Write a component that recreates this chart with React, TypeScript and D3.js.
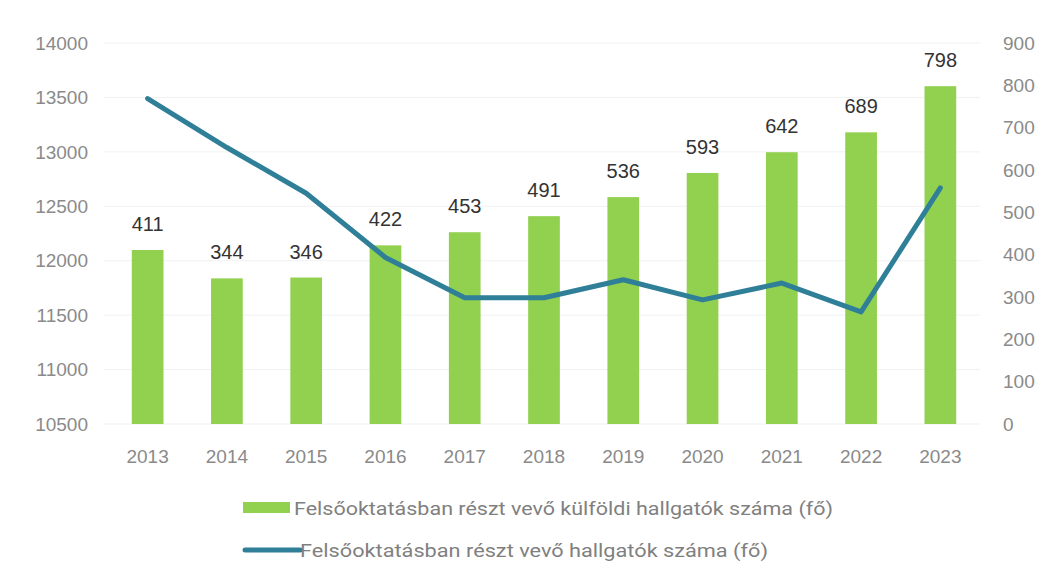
import React from "react";
import * as d3 from "d3";

const years = ["2013","2014","2015","2016","2017","2018","2019","2020","2021","2022","2023"];
const foreignStudents = [411, 344, 346, 422, 453, 491, 536, 593, 642, 689, 798];
const totalStudents = [13490, 13040, 12620, 12030, 11660, 11660, 11825, 11640, 11795, 11530, 12670];
const leftTicks = [10500, 11000, 11500, 12000, 12500, 13000, 13500, 14000];
const rightTicks = [0, 100, 200, 300, 400, 500, 600, 700, 800, 900];
const barLegend = "Felsőoktatásban részt vevő külföldi hallgatók száma (fő)";
const lineLegend = "Felsőoktatásban részt vevő hallgatók száma (fő)";

export default function App() {
  const W = 1046, H = 581;
  const left = 108, right = 980, top = 43, bottom = 424;
  const x = d3.scaleBand().domain(years).range([left, right]).paddingInner(0.6).paddingOuter(0.3);
  const yL = d3.scaleLinear().domain([10500, 14000]).range([bottom, top]);
  const yR = d3.scaleLinear().domain([0, 900]).range([bottom, top]);
  const cx = (d: string) => (x(d) as number) + x.bandwidth() / 2;
  const line = d3.line<number>().x((_, i) => cx(years[i])).y((d) => yL(d));
  const axisColor = "#8a8a8a";
  const font = "'Liberation Sans', Arial, sans-serif";
  return (
    <svg width={W} height={H} style={{ position: "absolute", left: 0, top: 0, background: "#fff" }}>
      {leftTicks.map((t) => (
        <line key={"g" + t} x1={104} x2={right} y1={yL(t)} y2={yL(t)} stroke="#f1f1f1" strokeWidth={1} />
      ))}
      {leftTicks.map((t) => (
        <text key={"l" + t} x={88} y={yL(t)} dy="0.35em" textAnchor="end" fontFamily={font} fontSize={19} fill={axisColor}>{t}</text>
      ))}
      {rightTicks.map((t) => (
        <text key={"r" + t} x={1003} y={yR(t)} dy="0.35em" textAnchor="start" fontFamily={font} fontSize={19} fill={axisColor}>{t}</text>
      ))}
      {years.map((yr) => (
        <text key={"x" + yr} x={cx(yr)} y={456} dy="0.35em" textAnchor="middle" fontFamily={font} fontSize={19} fill={axisColor}>{yr}</text>
      ))}
      {foreignStudents.map((v, i) => (
        <rect key={"b" + i} x={x(years[i])} y={yR(v)} width={x.bandwidth()} height={yR(0) - yR(v)} fill="#92d050" />
      ))}
      <path d={line(totalStudents) || ""} fill="none" stroke="#2f7f98" strokeWidth={5} strokeLinejoin="round" strokeLinecap="round" />
      {foreignStudents.map((v, i) => (
        <text key={"v" + i} x={cx(years[i])} y={yR(v) - 26} dy="0.35em" textAnchor="middle" fontFamily={font} fontSize={20} fill="#333">{v}</text>
      ))}
      <rect x={243} y={502} width={47} height={11} fill="#92d050" />
      <text x={294} y={508} dy="0.35em" fontFamily="Roboto, sans-serif" fontSize={19} fill="#808080" textLength={539} lengthAdjust="spacingAndGlyphs">{barLegend}</text>
      <line x1={245} x2={300} y1={550} y2={550} stroke="#2f7f98" strokeWidth={5} strokeLinecap="round" />
      <text x={300} y={550} dy="0.35em" fontFamily="Roboto, sans-serif" fontSize={19} fill="#808080" textLength={468} lengthAdjust="spacingAndGlyphs">{lineLegend}</text>
    </svg>
  );
}
